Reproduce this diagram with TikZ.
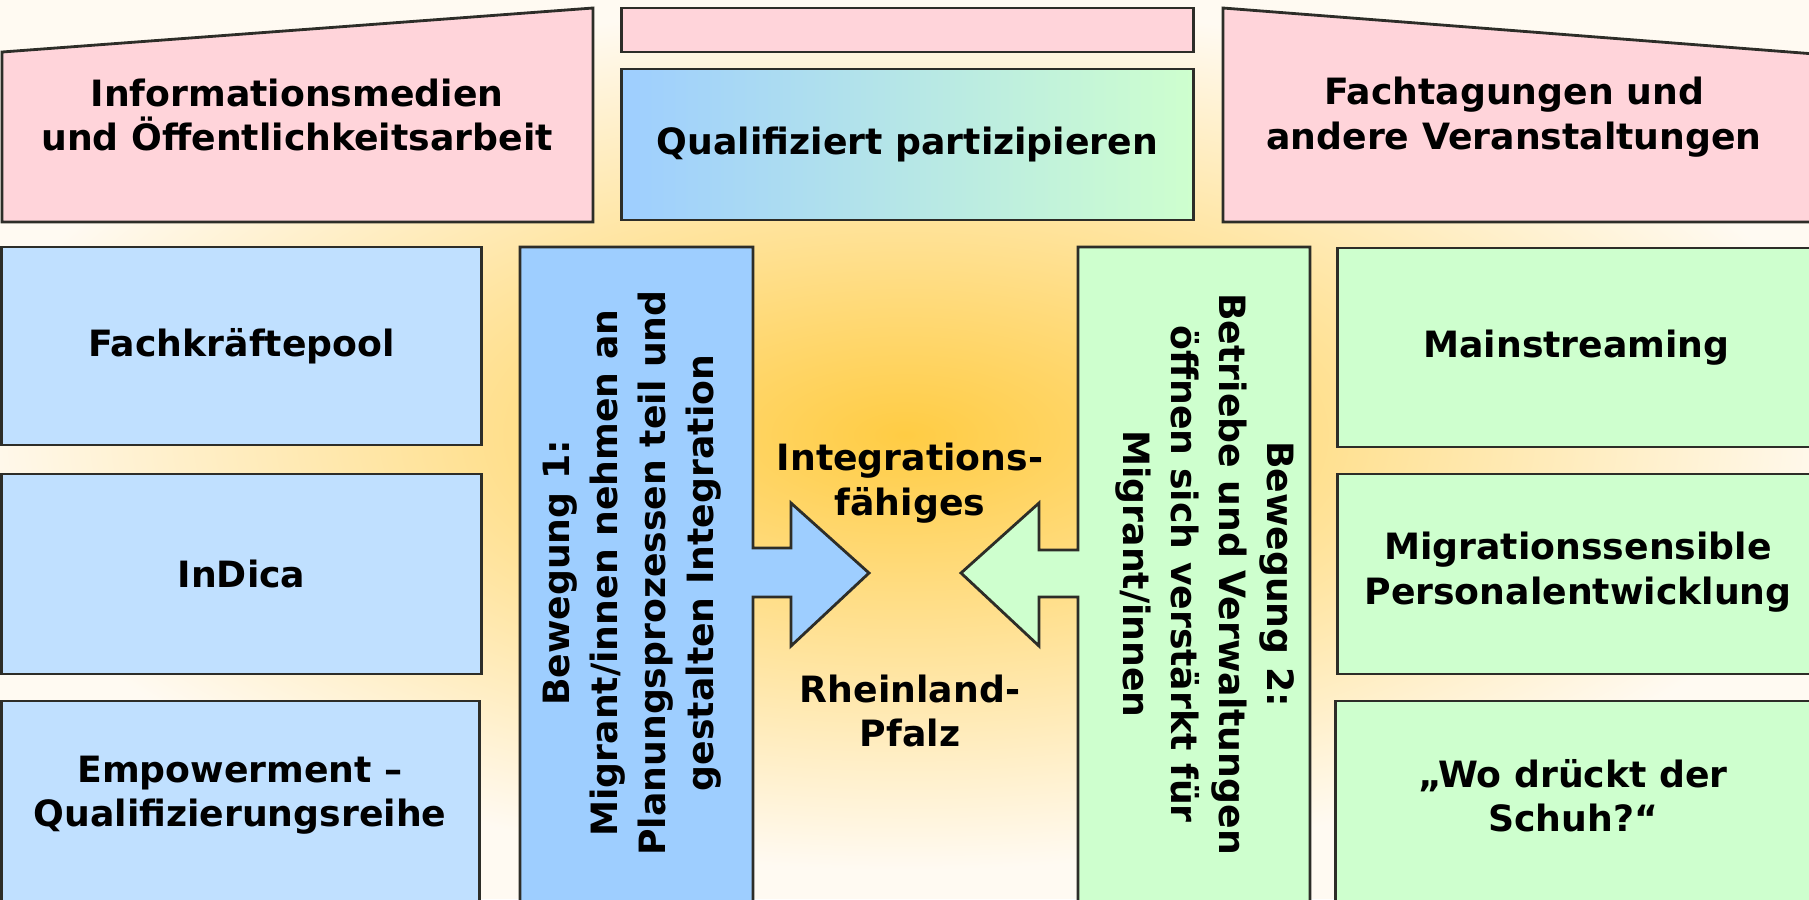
\documentclass[tikz,border=0pt]{standalone}
\usepackage{fontspec}
\setmainfont{DejaVu Sans}

\definecolor{pinkfill}{RGB}{255,212,218}
\definecolor{bluelight}{RGB}{192,224,255}
\definecolor{bluedark}{RGB}{158,206,255}
\definecolor{greenfill}{RGB}{206,255,206}
\definecolor{bgmid}{RGB}{255,204,68}
\definecolor{bgedge}{RGB}{255,250,242}
\definecolor{edge}{RGB}{45,45,40}

\newcommand\boxfont{\bfseries\fontsize{10.3}{12.6}\selectfont}
\newcommand\rotfont{\bfseries\fontsize{10.3}{13.6}\selectfont}

\tikzset{box/.style = {draw = edge, line width = 0.8pt, inner sep = 0},
         bluebox/.style = {box, fill = bluelight},
         greenbox/.style = {box, fill = greenfill},
         txt/.style = {align = center, inner sep = 0, font = \boxfont}}

\begin{document}
\begin{tikzpicture}[x=0.01cm, y=-0.01cm]
    \useasboundingbox (0, 0) rectangle (1809, 899);
    \clip (0, 0) rectangle (1809, 899);

    % background
    \fill [bgedge] (0, 0) rectangle (1809, 899);
    \shade [inner color=bgmid, outer color=bgedge] (-45, 0) rectangle (1855, 870);

    % top row
    \filldraw [box, fill=pinkfill] (2, 52) -- (593, 8) -- (593, 222) -- (2, 222) -- cycle;
    \filldraw [box, fill=pinkfill] (1223, 8) -- (1815, 54) -- (1815, 222) -- (1223, 222) -- cycle;
    \node [txt] (media) at (297, 115) {Informationsmedien\\und Öffentlichkeitsarbeit};
    \node [txt] (events) at (1514, 117) {Fachtagungen und\\andere Veranstaltungen};

    \node [box, fill=pinkfill, minimum width=5.71cm, minimum height=0.44cm] (bar) at (907.5, 30) {};
    \node [box, left color=bluedark, right color=greenfill, minimum width=5.71cm, minimum height=1.51cm,
           font=\boxfont] (qual) at (907.5, 144.5) {Qualifiziert partizipieren};

    % left column
    \node [bluebox, minimum width=4.79cm, minimum height=1.98cm, font=\boxfont] (pool) at (241.5, 346) {Fachkräftepool};
    \node [bluebox, minimum width=4.79cm, minimum height=2.00cm, font=\boxfont] (indica) at (241.5, 574) {InDica};
    \node [bluebox, minimum width=4.77cm, minimum height=2.29cm] (empbox) at (240.5, 815.5) {};
    \node [txt] (emp) at (240, 795) {Empowerment –\\Qualifizierungsreihe};

    % right column
    \node [greenbox, minimum width=4.77cm, minimum height=1.99cm, font=\boxfont] (main) at (1576.5, 347.5) {Mainstreaming};
    \node [greenbox, minimum width=4.77cm, minimum height=2.00cm] (perso) at (1576.5, 574) {};
    \node [txt] (persotxt) at (1578, 572) {Migrationssensible\\Personalentwicklung};
    \node [greenbox, minimum width=4.79cm, minimum height=2.29cm] (shoebox) at (1575.5, 815.5) {};
    \node [txt] (shoe) at (1573, 796) {„Wo drückt der\\Schuh?“};

    % the two movements
    \filldraw [box, fill=bluedark] (520, 247) -- (753, 247) -- (753, 548) -- (791, 548) -- (791, 503)
      -- (869, 573) -- (791, 646) -- (791, 597) -- (753, 597) -- (753, 930) -- (520, 930) -- cycle;
    \filldraw [box, fill=greenfill] (1310, 247) -- (1078, 247) -- (1078, 550) -- (1039, 550) -- (1039, 503)
      -- (961, 573) -- (1039, 646) -- (1039, 597) -- (1078, 597) -- (1078, 930) -- (1310, 930) -- cycle;

    \node [txt, rotate=90, font=\rotfont] (move1) at (632, 573)
      {Bewegung 1:\\Migrant/innen nehmen an\\Planungsprozessen teil und\\gestalten Integration};
    \node [txt, rotate=-90, font=\rotfont] (move2) at (1205, 574)
      {Bewegung 2:\\Betriebe und Verwaltungen\\öffnen sich verstärkt für\\Migrant/innen};

    % centre
    \node [txt] (integ) at (910, 483) {Integrations-\\fähiges};
    \node [txt] (rlp) at (910, 711) {Rheinland-\\Pfalz};
\end{tikzpicture}
\end{document}
